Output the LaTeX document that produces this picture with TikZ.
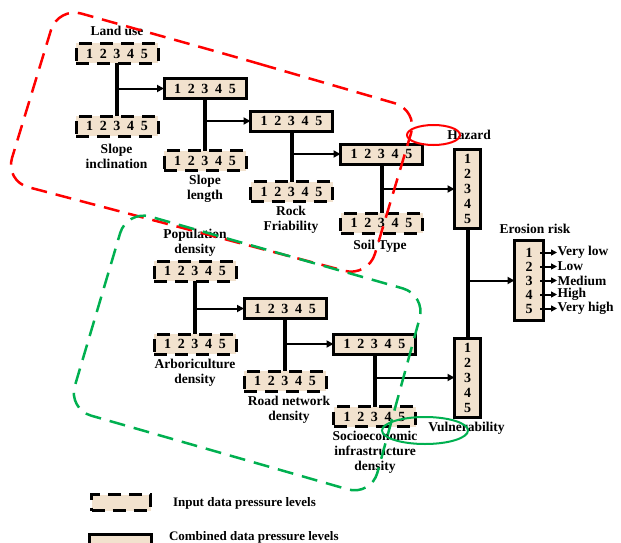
\documentclass[tikz,border=0pt]{standalone}
\usepackage{fontspec}
\setmainfont{Liberation Serif}
\usetikzlibrary{arrows.meta}
\definecolor{boxfill}{RGB}{242,226,206}
\definecolor{rred}{RGB}{255,0,0}
\definecolor{ggreen}{RGB}{0,176,80}
\newcommand{\lvls}{1\hspace{0.48em}2\hspace{0.48em}3\hspace{0.48em}4\hspace{0.48em}5}
\begin{document}
\begin{tikzpicture}[x=1pt,y=-1pt,
  every node/.style={inner sep=0pt, outer sep=0pt},
  inbox/.style={draw, line width=3pt, dash pattern=on 13pt off 8pt, fill=boxfill,
    minimum width=82pt, minimum height=20pt, font=\fontsize{14}{15}\selectfont\bfseries},
  combox/.style={draw, line width=3pt, fill=boxfill,
    minimum width=82pt, minimum height=20pt, font=\fontsize{14}{15}\selectfont\bfseries},
  vbox/.style={draw, line width=3pt, fill=boxfill, minimum width=26pt, minimum height=79pt,
    align=center, font=\fontsize{14}{15}\selectfont\bfseries},
  ebox/.style={draw, line width=3pt, fill=boxfill, minimum width=29pt, minimum height=80pt,
    align=center, font=\fontsize{14}{14}\selectfont\bfseries},
  lbl/.style={align=center, font=\fontsize{13.5}{15}\selectfont\bfseries},
  outlbl/.style={anchor=west, inner sep=0.5pt, font=\fontsize{13.5}{15}\selectfont\bfseries},
  stem/.style={line width=4pt},
  feed/.style={line width=2pt, -{Triangle[length=7pt,width=7pt]}},
  outarrow/.style={line width=2pt, -{Triangle[length=6pt,width=6pt]}},
  region/.style={line width=2.5pt, dash pattern=on 16pt off 9pt, rounded corners=24pt},
]
\useasboundingbox (0,0) rectangle (621,543);
\clip (0,0) rectangle (621,543);

% ---- Hazard branch ----
\node[inbox]  (landuse)  at (117,53.5)  {\lvls};
\node[lbl]    (tland)    at (117,31)    {Land use};
\node[inbox]  (slopeinc) at (117,126)   {\lvls};
\node[lbl]    (tslinc)   at (116.5,156.5) {Slope\\inclination};
\node[combox] (comb1)    at (205,88.5)  {\lvls};
\node[inbox]  (slopelen) at (205,160.5) {\lvls};
\node[lbl]    (tsllen)   at (205,189)   {Slope\\length};
\node[combox] (comb2)    at (291.5,121) {\lvls};
\node[inbox]  (rock)     at (291.5,191.5) {\lvls};
\node[lbl]    (trock)    at (291,220)   {Rock\\Friability};
\node[combox] (comb3)    at (381.5,154) {\lvls};
\node[inbox]  (soil)     at (381.5,223) {\lvls};
\node[lbl]    (tsoil)    at (380,246)   {Soil Type};
\node[vbox]   (hazard)   at (467.5,189) {1\\2\\3\\4\\5};
\node[lbl]    (thaz)     at (469,135)   {Hazard};

% ---- Vulnerability branch ----
\node[inbox]  (pop)      at (195,271)   {\lvls};
\node[lbl]    (tpop)     at (195,242.5) {Population\\density};
\node[inbox]  (arbor)    at (195,344)   {\lvls};
\node[lbl]    (tarb)     at (195,372.5) {Arboriculture\\density};
\node[combox] (comb4)    at (285,308.5) {\lvls};
\node[inbox]  (road)     at (285,381)   {\lvls};
\node[lbl]    (troad)    at (289,409.5) {Road network\\density};
\node[combox] (comb5)    at (374.5,344) {\lvls};
\node[inbox]  (socio)    at (374.5,416.5) {\lvls};
\node[lbl]    (tsocio)   at (375,452)   {Socioeconomic\\infrastructure\\density};
\node[vbox]   (vuln)     at (467.5,377.5) {1\\2\\3\\4\\5};
\node[lbl]    (tvuln)    at (466.5,428) {Vulnerability};

% ---- Erosion risk ----
\node[ebox]   (erosion)  at (529,280.5) {1\\2\\3\\4\\5};
\node[lbl]    (tero)     at (535,229)   {Erosion risk};
\node[outlbl] (r1) at (557,252.5) {Very low};
\node[outlbl] (r2) at (557,266.5) {Low};
\node[outlbl] (r3) at (557,280.5) {Medium};
\node[outlbl] (r4) at (557,294.5) {High};
\node[outlbl] (r5) at (557,308.5) {Very high};
\coordinate (o1) at (540,252.5);
\coordinate (o2) at (540,266.5);
\coordinate (o3) at (540,280.5);
\coordinate (o4) at (540,294.5);
\coordinate (o5) at (540,308.5);
\foreach \i in {1,...,5} \draw[outarrow] (o\i) -- (r\i.west);

% ---- stems and feeds ----
\draw[stem] (landuse.south) -- (slopeinc.north);
\coordinate (j1) at (landuse.south |- comb1.west);
\draw[feed] (j1) -- (comb1.west);
\draw[stem] (comb1.south) -- (slopelen.north);
\coordinate (j2) at (comb1.south |- comb2.west);
\draw[feed] (j2) -- (comb2.west);
\draw[stem] (comb2.south) -- (rock.north);
\coordinate (j3) at (comb2.south |- comb3.west);
\draw[feed] (j3) -- (comb3.west);
\draw[stem] (comb3.south) -- (soil.north);
\coordinate (j4) at (comb3.south |- hazard.west);
\draw[feed] (j4) -- (hazard.west);

\draw[stem] (pop.south) -- (arbor.north);
\coordinate (j5) at (pop.south |- comb4.west);
\draw[feed] (j5) -- (comb4.west);
\draw[stem] (comb4.south) -- (road.north);
\coordinate (j6) at (comb4.south |- comb5.west);
\draw[feed] (j6) -- (comb5.west);
\draw[stem] (comb5.south) -- (socio.north);
\coordinate (j7) at (comb5.south |- vuln.west);
\draw[feed] (j7) -- (vuln.west);

\draw[stem] (hazard.south) -- (vuln.north);
\coordinate (j8) at (hazard.south |- erosion.west);
\draw[feed] (j8) -- (erosion.west);

% ---- legend ----
\node[inbox, minimum width=59pt, minimum height=16pt] (leg1) at (121,502.5) {};
\node[anchor=west, font=\fontsize{13}{15}\selectfont\bfseries] (tleg1) at (173,503.5) {Input data pressure levels};
\node[combox, minimum width=62pt, minimum height=20pt] (leg2) at (120.5,544) {};
\node[anchor=west, font=\fontsize{13}{15}\selectfont\bfseries] (tleg2) at (169,537) {Combined data pressure levels};

% ---- highlighted regions ----
\draw[rred, region] (237.5,57.5) -- (418,110) -- (368,277) -- (5,181) -- (58,7) -- cycle;
\draw[ggreen, region] (276.5,252.5) -- (426,295) -- (371,496) -- (68,409) -- (127,210) -- cycle;
\draw[rred, line width=2pt] (433.5,135) ellipse [x radius=26.5pt, y radius=10pt];
\draw[ggreen, line width=2pt] (425,430.5) ellipse [x radius=43pt, y radius=13.5pt];
\end{tikzpicture}
\end{document}
